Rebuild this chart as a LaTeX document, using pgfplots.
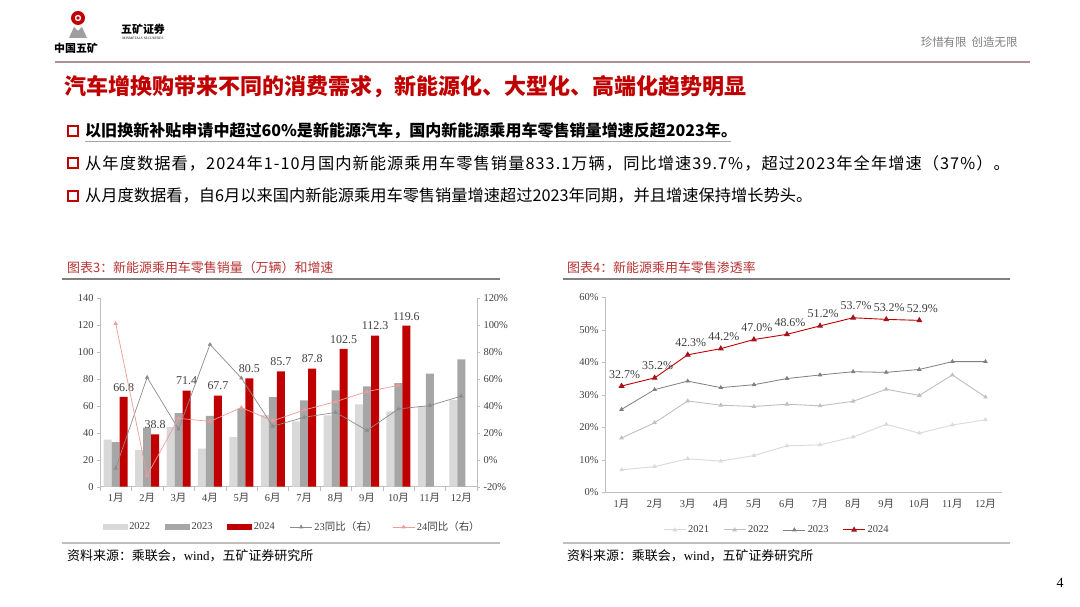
\documentclass[border=0pt]{standalone}
\usepackage{fontspec}
\usepackage{pgfplots}
\pgfplotsset{compat=1.18}
\setmainfont{Liberation Serif}
\newfontfamily\cjk{Noto Sans CJK SC}
\definecolor{tred}{HTML}{C00000}
\definecolor{ctitle}{HTML}{B83232}
\definecolor{c22}{HTML}{D9D9D9}
\definecolor{c23}{HTML}{A6A6A6}
\definecolor{c24}{HTML}{C00000}
\definecolor{l23}{HTML}{8C8C8C}
\definecolor{l24}{HTML}{F09A9A}
\definecolor{r21}{HTML}{DADADA}
\definecolor{r22}{HTML}{BFBFBF}
\definecolor{r23}{HTML}{7F7F7F}
\definecolor{r24m}{HTML}{A3141C}
\definecolor{axgray}{HTML}{BFBFBF}
\definecolor{tgray}{HTML}{404040}
\definecolor{hline}{HTML}{B09090}
\newcommand{\fs}[1]{\fontsize{#1}{#1}\selectfont}
\pgfplotsset{/pgf/number format/assume math mode=true}
\pgfplotsset{
  common/.style={
    scale only axis, xmin=0.5, xmax=12.5,
    axis line style={axgray,-}, tick align=outside,
    major tick length=3bp, minor tick length=4bp,
    tick style={axgray},
    ticklabel style={font=\fs{10.5}, text=tgray},
    legend image code/.code={\draw[mark repeat=2,mark phase=2,##1] plot coordinates {(0bp,0bp) (11bp,0bp) (22bp,0bp)};},
  }
}
\begin{document}
\begin{tikzpicture}[x=1bp,y=1bp]
\path[use as bounding box] (0,0) rectangle (1080,607);
\fill[white] (0,0) rectangle (1080,607);
% header
\fill[tred] (78,589) circle (7);
\fill[white] (78,589) circle (3.2);
\fill[tred] (78,589) circle (1.8);
\fill[gray!75] (69,569) -- (74,580) -- (78,576) -- (82,580) -- (87,569) -- cycle;
\node[font=\cjk\bfseries\fs{11}] at (76,559) {中国五矿};
\node[font=\cjk\bfseries\fs{11}] at (143,578) {五矿证券};
\node[font=\fs{3.5}] at (143,569) {MINMETALS SECURITIES};
\node[anchor=east, font=\cjk\fs{11.5}, text=gray] at (1021,565) {珍惜有限\hspace{5bp}创造无限};
\draw[hline, line width=1.2bp] (55,545) -- (1030,545);
% title
\node[anchor=west, font=\cjk\bfseries\fs{22.1}, text=tred, inner sep=0] at (64,520) {汽车增换购带来不同的消费需求，新能源化、大型化、高端化趋势明显};
% bullets
\draw[tred, line width=1.9bp] (68,471) rectangle (78,481);
\node[anchor=west, font=\cjk\bfseries\fs{16.1}, inner sep=0] at (85,476) {以旧换新补贴申请中超过60\%是新能源汽车，国内新能源乘用车零售销量增速反超2023年。};
\draw[gray!70, line width=0.8bp] (85,466) -- (731,466);
\draw[tred, line width=1.9bp] (68,439) rectangle (78,449);
\node[anchor=west, font=\cjk\fs{16.3}, inner sep=0] at (85,444) {\addfontfeature{LetterSpace=6.5}从年度数据看，2024年1-10月国内新能源乘用车零售销量833.1万辆，同比增速39.7\%，超过2023年全年增速（37\%）。};
\draw[tred, line width=1.9bp] (68,406) rectangle (78,416);
\node[anchor=west, font=\cjk\fs{16.3}, inner sep=0] at (85,411) {从月度数据看，自6月以来国内新能源乘用车零售销量增速超过2023年同期，并且增速保持增长势头。};
% chart titles
\node[anchor=west, font=\cjk\fs{13}, text=ctitle, inner sep=0] at (67,339) {图表3：新能源乘用车零售销量（万辆）和增速};
\draw[gray, line width=1.6bp] (62,328) -- (500,328);
\node[anchor=west, font=\cjk\fs{13}, text=ctitle, inner sep=0] at (567,339) {图表4：新能源乘用车零售渗透率};
\draw[gray, line width=1.6bp] (563,328) -- (1010,328);
% sources
\draw[axgray, line width=1.2bp] (62,64) -- (500,64);
\node[anchor=west, font=\fs{13}, inner sep=0] at (67,51) {{\cjk 资料来源：乘联会，}wind{\cjk ，五矿证券研究所}};
\draw[axgray, line width=1.2bp] (563,64) -- (1010,64);
\node[anchor=west, font=\fs{13}, inner sep=0] at (567,51) {{\cjk 资料来源：乘联会，}wind{\cjk ，五矿证券研究所}};
\node[font=\fs{14}] at (1060,24) {4};

% ---------- left chart: bars ----------
\begin{axis}[common,
  at={(100bp,120.3bp)}, anchor=south west, width=377bp, height=188.4bp,
  ymin=0, ymax=140, ytick={0,20,...,140},
  axis x line*=bottom, axis y line*=left,
  xtick={1,...,12},
  xticklabels={1{\cjk 月},2{\cjk 月},3{\cjk 月},4{\cjk 月},5{\cjk 月},6{\cjk 月},7{\cjk 月},8{\cjk 月},9{\cjk 月},10{\cjk 月},11{\cjk 月},12{\cjk 月}},
  major x tick style={draw=none},
  minor xtick={0.5,1.5,...,12.5},
  ybar=0pt, bar width=8bp,
]
\addplot[fill=c22, draw=none] coordinates {(1,35.0) (2,27.2) (3,44.5) (4,28.2) (5,36.8) (6,53.2) (7,48.6) (8,53.0) (9,61.1) (10,55.9) (11,60.0) (12,64.3)};
\addplot[fill=c23, draw=none] coordinates {(1,33.2) (2,43.9) (3,54.6) (4,52.7) (5,58.0) (6,66.5) (7,64.1) (8,71.6) (9,74.5) (10,77.0) (11,84.1) (12,94.7)};
\addplot[fill=c24, draw=none, nodes near coords, point meta=explicit symbolic,
  nodes near coords style={font=\fs{12}, text=tgray, anchor=south, yshift=2bp}] coordinates {(1,66.8) [66.8] (2,38.8) [38.8] (3,71.4) [71.4] (4,67.7) [67.7] (5,80.5) [80.5] (6,85.7) [85.7] (7,87.8) [87.8] (8,102.5) [102.5] (9,112.3) [112.3] (10,119.6) [119.6]};
\end{axis}

% ---------- left chart: lines (right axis) ----------
\begin{axis}[common,
  at={(100bp,120.3bp)}, anchor=south west, width=377bp, height=188.4bp,
  ymin=-20, ymax=120, ytick={-20,0,...,120},
  yticklabel={\pgfmathprintnumber{\tick}\%},
  axis y line*=right, axis x line=none,
  legend style={at={(0.51,-0.214)}, anchor=center, draw=none, fill=none,
    legend columns=5, font=\fs{10.5}, text=tgray,
    /tikz/every even column/.append style={column sep=13bp}},
]
\addlegendimage{legend image code/.code={\fill[c22] (0bp,-2.5bp) rectangle (24bp,2.5bp);}}
\addlegendentry{2022}
\addlegendimage{legend image code/.code={\fill[c23] (0bp,-2.5bp) rectangle (24bp,2.5bp);}}
\addlegendentry{2023}
\addlegendimage{legend image code/.code={\fill[c24] (0bp,-2.5bp) rectangle (24bp,2.5bp);}}
\addlegendentry{2024}
\addplot[l23, line width=0.7bp, mark=triangle*, mark size=1.8bp, mark options={fill=l23}] coordinates {(1,-6.3) (2,61.2) (3,22.7) (4,85.7) (5,60.7) (6,24.9) (7,31.6) (8,35.2) (9,21.8) (10,37.8) (11,40.3) (12,47.3)};
\addlegendentry{23{\cjk 同比（右）}}
\addplot[l24, line width=0.7bp, mark=triangle*, mark size=1.8bp, mark options={fill=l24}] coordinates {(1,101.2) (2,-11.6) (3,30.8) (4,28.5) (5,38.8) (6,28.9) (7,37.0) (8,43.2) (9,50.7) (10,55.3)};
\addlegendentry{24{\cjk 同比（右）}}
\end{axis}

% ---------- right chart ----------
\begin{axis}[common,
  at={(605bp,114.7bp)}, anchor=south west, width=397bp, height=195bp,
  ymin=0, ymax=60, ytick={0,10,...,60},
  yticklabel={\pgfmathprintnumber{\tick}\%},
  axis x line*=bottom, axis y line*=left,
  xtick={1,...,12},
  xticklabels={1{\cjk 月},2{\cjk 月},3{\cjk 月},4{\cjk 月},5{\cjk 月},6{\cjk 月},7{\cjk 月},8{\cjk 月},9{\cjk 月},10{\cjk 月},11{\cjk 月},12{\cjk 月}},
  major x tick style={draw=none},
  legend style={at={(0.433,-0.193)}, anchor=center, draw=none, fill=none,
    legend columns=4, font=\fs{10.5}, text=tgray,
    /tikz/every even column/.append style={column sep=12bp}},
]
\addplot[r21, line width=0.9bp, mark=triangle*, mark size=1.8bp, mark options={fill=r21}] coordinates {(1,6.9) (2,7.9) (3,10.3) (4,9.6) (5,11.3) (6,14.3) (7,14.6) (8,17.0) (9,20.9) (10,18.2) (11,20.7) (12,22.3)};
\addlegendentry{2021}
\addplot[r22, line width=0.9bp, mark=triangle*, mark size=1.8bp, mark options={fill=r22}] coordinates {(1,16.7) (2,21.4) (3,28.1) (4,26.8) (5,26.4) (6,27.1) (7,26.6) (8,28.0) (9,31.7) (10,29.8) (11,36.1) (12,29.3)};
\addlegendentry{2022}
\addplot[r23, line width=0.8bp, mark=triangle*, mark size=1.9bp, mark options={fill=r23}] coordinates {(1,25.5) (2,31.6) (3,34.2) (4,32.2) (5,33.1) (6,35.0) (7,36.1) (8,37.1) (9,36.9) (10,37.8) (11,40.2) (12,40.2)};
\addlegendentry{2023}
\addplot[tred, line width=0.9bp, mark=triangle*, mark size=2.6bp, mark options={fill=r24m, draw=r24m},
  nodes near coords={\pgfmathprintnumber[fixed,precision=1,fixed zerofill]{\pgfplotspointmeta}\%},
  nodes near coords style={font=\fs{12}, text=tgray, anchor=south, yshift=4bp, xshift=3bp}] coordinates {(1,32.7) (2,35.2) (3,42.3) (4,44.2) (5,47.0) (6,48.6) (7,51.2) (8,53.7) (9,53.2) (10,52.9)};
\addlegendentry{2024}
\end{axis}
\end{tikzpicture}
\end{document}
